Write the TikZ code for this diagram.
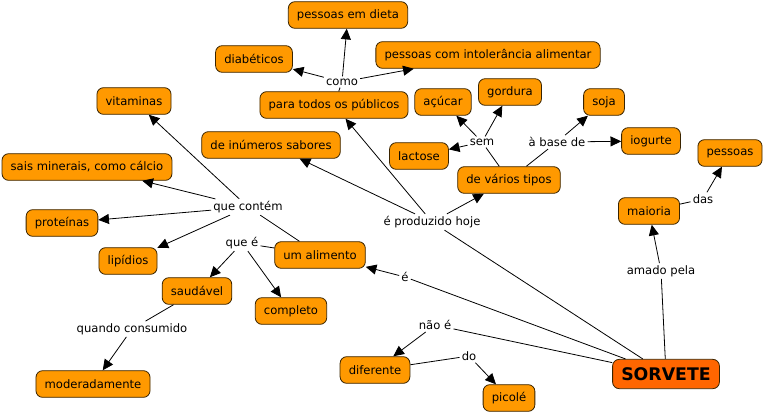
\documentclass[tikz,border=0pt]{standalone}
\usepackage{fontspec}
\setmainfont{DejaVu Sans}
\usetikzlibrary{arrows.meta}
\definecolor{laranja}{HTML}{FF9900}
\definecolor{laranjaforte}{HTML}{FF6600}
\definecolor{borda}{HTML}{3A2400}

\tikzset{
	conceito/.style={draw=borda, line width=0.6pt, fill=laranja, rounded corners=5pt, minimum height=20pt, inner xsep=6.5pt, font=\fontsize{8.7}{10}\selectfont},
	principal/.style={conceito, fill=laranjaforte, minimum height=22pt, font=\fontsize{13}{15}\selectfont\bfseries},
	ligacao/.style={inner sep=1.5pt, font=\fontsize{8.7}{10}\selectfont},
	linha/.style={line width=0.6pt},
	seta/.style={linha, -{Triangle[length=8pt,width=7.5pt]}},
}

\begin{document}
\begin{tikzpicture}[x=0.75pt, y=-0.75pt]
			%%%%% START %%%%%
			\useasboundingbox (0, 0) rectangle (766, 415);
			
			\node[principal] (sorvete) at (666, 374) {SORVETE};
			
			\node[conceito] (dieta) at (348, 15) {pessoas em dieta};
			\node[conceito] (diabeticos) at (254, 59) {diabéticos};
			\node[conceito] (intolerancia) at (488, 55) {pessoas com intolerância alimentar};
			\node[conceito] (publicos) at (334, 105) {para todos os públicos};
			\node[conceito] (vitaminas) at (134, 101) {vitaminas};
			\node[conceito] (sabores) at (271, 145) {de inúmeros sabores};
			\node[conceito] (sais) at (87, 167) {sais minerais, como cálcio};
			\node[conceito] (proteinas) at (62, 223) {proteínas};
			\node[conceito] (lipidios) at (128, 261) {lipídios};
			\node[conceito] (alimento) at (320, 255) {um alimento};
			\node[conceito] (saudavel) at (197, 291) {saudável};
			\node[conceito] (completo) at (291, 311) {completo};
			\node[conceito] (moderadamente) at (93, 384) {moderadamente};
			\node[conceito] (diferente) at (375, 370) {diferente};
			\node[conceito] (picole) at (509, 398) {picolé};
			\node[conceito] (maioria) at (649, 211) {maioria};
			\node[conceito] (pessoas) at (730, 153) {pessoas};
			\node[conceito] (tipos) at (509, 180) {de vários tipos};
			\node[conceito] (lactose) at (419, 156) {lactose};
			\node[conceito] (acucar) at (443, 102) {açúcar};
			\node[conceito] (gordura) at (510, 92) {gordura};
			\node[conceito] (soja) at (604, 102) {soja};
			\node[conceito] (iogurte) at (651, 141) {iogurte};
			
			\node[ligacao] (como) at (342, 82) {como};
			\node[ligacao] (contem) at (248, 207) {que contém};
			\node[ligacao] (quee) at (242, 243) {que é};
			\node[ligacao] (quando) at (132, 329) {quando consumido};
			\node[ligacao] (naoe) at (435, 325) {não é};
			\node[ligacao] (do) at (469, 356) {do};
			\node[ligacao] (e) at (405, 277) {é};
			\node[ligacao] (produzido) at (432, 222) {é produzido hoje};
			\node[ligacao] (amado) at (661, 271) {amado pela};
			\node[ligacao] (das) at (703, 199) {das};
			\node[ligacao] (sem) at (482, 142) {sem};
			\node[ligacao] (base) at (557, 142) {à base de};
			
			\draw[linha] (sorvete) -- (produzido);
			\draw[seta] (produzido) -- (sabores);
			\draw[seta] (produzido) -- (publicos);
			\draw[seta] (produzido) -- (tipos);
			
			\draw[linha] (publicos) -- (como);
			\draw[seta] (como) -- (diabeticos);
			\draw[seta] (como) -- (dieta);
			\draw[seta] (como) -- (intolerancia);
			
			\draw[linha] (tipos) -- (sem);
			\draw[seta] (sem) -- (lactose);
			\draw[seta] (sem) -- (acucar);
			\draw[seta] (sem) -- (gordura);
			
			\draw[linha] (tipos) -- (base);
			\draw[seta] (base) -- (soja);
			\draw[seta] (base) -- (iogurte);
			
			\draw[linha] (sorvete) -- (amado);
			\draw[seta] (amado) -- (maioria);
			\draw[linha] (maioria) -- (das);
			\draw[seta] (das) -- (pessoas);
			
			\draw[linha] (sorvete) -- (e);
			\draw[seta] (e) -- (alimento);
			
			\draw[linha] (sorvete) -- (naoe);
			\draw[seta] (naoe) -- (diferente);
			\draw[linha] (diferente) -- (do);
			\draw[seta] (do) -- (picole);
			
			\draw[linha] (alimento) -- (contem);
			\draw[seta] (contem) -- (vitaminas);
			\draw[seta] (contem) -- (sais);
			\draw[seta] (contem) -- (proteinas);
			\draw[seta] (contem) -- (lipidios);
			
			\draw[linha] (alimento) -- (quee);
			\draw[seta] (quee) -- (saudavel);
			\draw[seta] (quee) -- (completo);
			
			\draw[linha] (saudavel) -- (quando);
			\draw[seta] (quando) -- (moderadamente);
			
			%%%%% END %%%%%
\end{tikzpicture}
\end{document}
